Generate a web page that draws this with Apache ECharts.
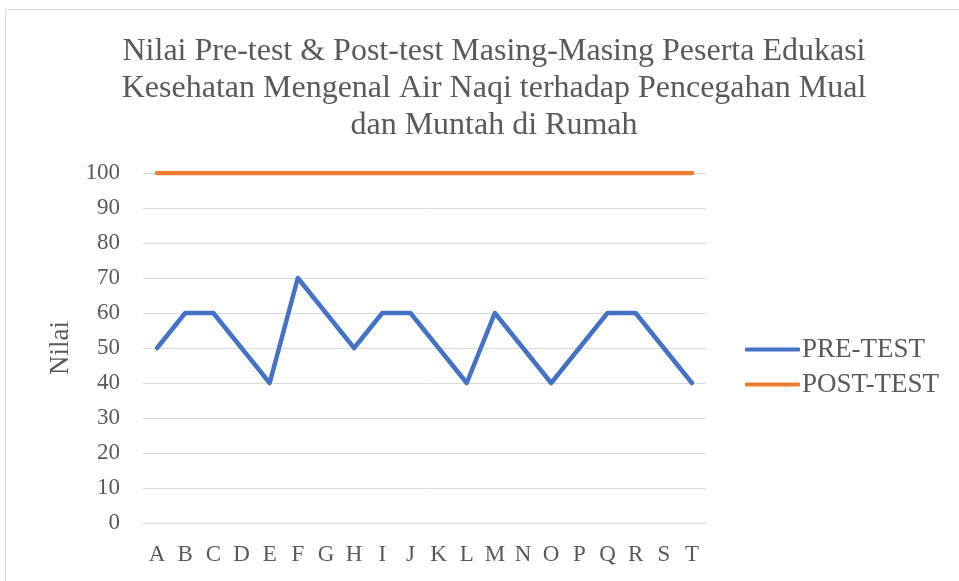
<!DOCTYPE html>
<html><head><meta charset="utf-8">
<script src="https://cdn.jsdelivr.net/npm/echarts@6/dist/echarts.min.js"></script>
<style>html,body{margin:0;padding:0;background:#fff}#c{width:959px;height:581px}</style>
</head><body><div id="c"></div>
<script>
const categories = ['A','B','C','D','E','F','G','H','I','J','K','L','M','N','O','P','Q','R','S','T'];
const preTest = [50,60,60,50,40,70,60,50,60,60,50,40,60,50,40,50,60,60,50,40];
const postTest = [100,100,100,100,100,100,100,100,100,100,100,100,100,100,100,100,100,100,100,100];
const yTicks = {min:0, max:100, interval:10};
const titleText = 'Nilai Pre-test & Post-test Masing-Masing Peserta Edukasi\nKesehatan Mengenal Air Naqi terhadap Pencegahan Mual\ndan Muntah di Rumah';
const font = '"Liberation Serif", "Times New Roman", serif';
const chart = echarts.init(document.getElementById('c'), null, {renderer:'canvas'});
chart.setOption({
  animation:false,
  graphic:[{type:'rect', shape:{x:5.5,y:9.5,width:1000,height:600}, style:{fill:'none', stroke:'#d9d9d9', lineWidth:1}, silent:true}],
  title:{text:titleText, left:489, textAlign:'center', top:28,
    textStyle:{fontFamily:font, fontSize:32, fontWeight:'normal', color:'#595959', lineHeight:37}},
  legend:{orient:'vertical', left:740, top:331, itemWidth:55, itemHeight:4, itemGap:8,
    icon:'roundRect',
    textStyle:{fontFamily:font, fontSize:27, color:'#595959', padding:[0,0,0,-3]},
    data:['PRE-TEST','POST-TEST']},
  grid:{left:143, right:253, top:173, bottom:58, containLabel:false},
  xAxis:{type:'category', data:categories, boundaryGap:true,
    axisLine:{lineStyle:{color:'#d9d9d9', width:1}}, axisTick:{show:false},
    axisLabel:{fontFamily:font, fontSize:23, color:'#595959', margin:20, interval:0}},
  yAxis:{type:'value', min:yTicks.min, max:yTicks.max, interval:yTicks.interval,
    name:'Nilai', nameLocation:'middle', nameGap:68, nameRotate:90,
    nameTextStyle:{fontFamily:font, fontSize:27, color:'#595959'},
    axisLine:{show:false}, axisTick:{show:false},
    splitLine:{lineStyle:{color:'#d9d9d9', width:1}},
    axisLabel:{fontFamily:font, fontSize:23, color:'#595959', margin:23}},
  series:[
    {name:'PRE-TEST', type:'line', data:preTest, symbol:'none', lineStyle:{color:'#4472C4', width:4.5, cap:'round', join:'round'}, itemStyle:{color:'#4472C4'}},
    {name:'POST-TEST', type:'line', data:postTest, symbol:'none', lineStyle:{color:'#ED7D31', width:4.5, cap:'round', join:'round'}, itemStyle:{color:'#ED7D31'}}
  ]
});
</script></body></html>
